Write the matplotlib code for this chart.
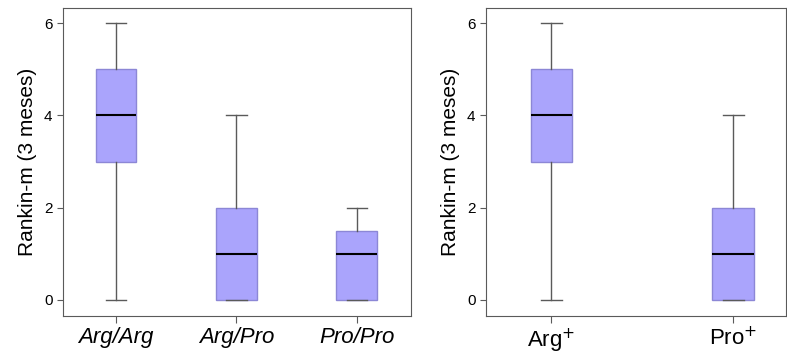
import matplotlib
matplotlib.use("Agg")
import matplotlib.pyplot as plt

plt.rcParams['font.family'] = ['Liberation Sans', 'DejaVu Sans']

# box stats: low whisker, q1, median, q3, high whisker
genotypes = ['Arg/Arg', 'Arg/Pro', 'Pro/Pro']
geno_lo = [0, 0, 0]
geno_q1 = [3, 0, 0]
geno_med = [4, 1, 1]
geno_q3 = [5, 2, 1.5]
geno_hi = [6, 4, 2]

carriers = ['Arg$^{+}$', 'Pro$^{+}$']
carr_lo = [0, 0]
carr_q1 = [3, 0]
carr_med = [4, 1]
carr_q3 = [5, 2]
carr_hi = [6, 4]

yticks = [0, 2, 4, 6]
ylabel = 'Rankin-m (3 meses)'

fill = '#aaa4fc'
edge = '#8c87d6'
grey = '#5a5a5a'


def make_stats(lo, q1, med, q3, hi):
    return [dict(whislo=a, q1=b, med=c, q3=d, whishi=e, fliers=[])
            for a, b, c, d, e in zip(lo, q1, med, q3, hi)]


def draw(ax, stats, labels, width, italic):
    ax.bxp(stats, positions=range(1, len(stats) + 1), widths=width,
           patch_artist=True, showfliers=False,
           boxprops=dict(facecolor=fill, edgecolor=edge, linewidth=1),
           medianprops=dict(color='black', linewidth=1.5),
           whiskerprops=dict(color=grey, linewidth=1),
           capprops=dict(color=grey, linewidth=1))
    ax.set_xticks(range(1, len(stats) + 1))
    ax.set_xticklabels(labels, fontsize=16, style='italic' if italic else 'normal')
    ax.set_yticks(yticks)
    ax.tick_params(axis='y', labelsize=11, length=4, color=grey)
    ax.tick_params(axis='x', length=5, color=grey, pad=3)
    ax.set_ylabel(ylabel, fontsize=15, labelpad=5)
    ax.set_ylim(-0.35, 6.33)
    for s in ax.spines.values():
        s.set_color(grey)


fig = plt.figure(figsize=(7.87, 3.54), dpi=100)
ax1 = fig.add_axes([63 / 787, 38 / 354, 348 / 787, 308 / 354])
ax2 = fig.add_axes([486 / 787, 38 / 354, 300 / 787, 308 / 354])

draw(ax1, make_stats(geno_lo, geno_q1, geno_med, geno_q3, geno_hi), genotypes, 0.34, True)
ax1.set_xlim(0.56, 3.45)

draw(ax2, make_stats(carr_lo, carr_q1, carr_med, carr_q3, carr_hi), carriers, 0.23, False)
ax2.set_xlim(0.64, 2.29)

fig.savefig('out.png', dpi=100)
